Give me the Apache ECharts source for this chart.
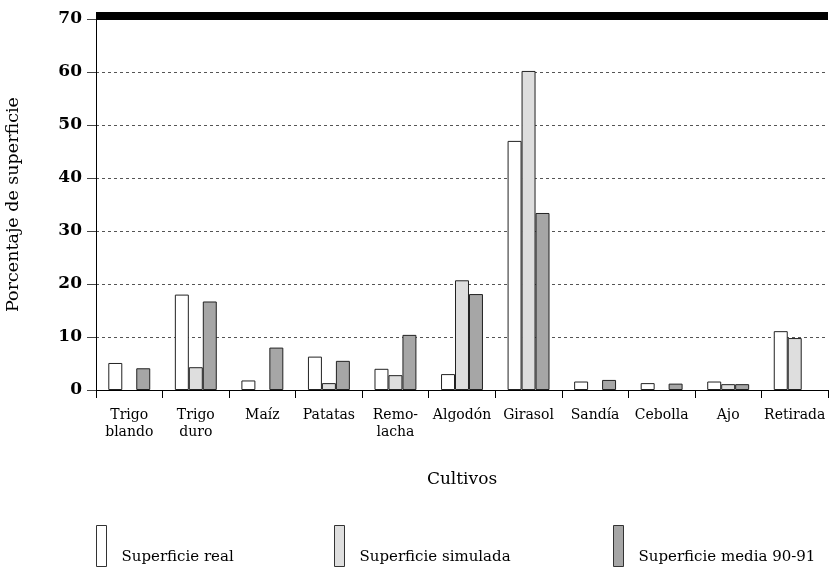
<!DOCTYPE html>
<html>
<head>
<meta charset="utf-8">
<script src="https://cdn.jsdelivr.net/npm/echarts@6/dist/echarts.min.js"></script>
<style>html,body{margin:0;padding:0;background:#fff}#c{width:829px;height:572px}</style>
</head>
<body>
<div id="c"></div>
<script>
const categories = ["Trigo\nblando","Trigo\nduro","Maíz","Patatas","Remo-\nlacha","Algodón","Girasol","Sandía","Cebolla","Ajo","Retirada"];
const seriesNames = ["Superficie real","Superficie simulada","Superficie media 90-91"];
const real = [5.1, 18.0, 1.8, 6.3, 4.0, 3.0, 47.0, 1.6, 1.3, 1.6, 11.1];
const simulada = [0, 4.3, 0, 1.3, 2.8, 20.7, 60.2, 0, 0, 1.1, 9.8];
const media = [4.1, 16.7, 8.0, 5.5, 10.4, 18.1, 33.4, 1.9, 1.2, 1.1, 0];
const yTicks = [0, 10, 20, 30, 40, 50, 60, 70];

const FONT = "DejaVu Serif";
const colors = ["#ffffff", "#dedede", "#a6a6a6"];
const chart = echarts.init(document.getElementById('c'), null, {renderer: 'canvas'});

function mkSeries(name, data, color) {
  return {
    name: name, type: 'bar', data: data.map(v => v === 0 ? null : v),
    barGap: '0%', barCategoryGap: '37%',
    itemStyle: {color: color, borderColor: '#222', borderWidth: 1},
    emphasis: {disabled: true}
  };
}
function mkLegend(name, left) {
  return {
    data: [name], left: left, top: 525, padding: 0, orient: 'horizontal',
    icon: 'rect', itemWidth: 10, itemHeight: 41, itemGap: 0,
    itemStyle: {borderColor: '#333', borderWidth: 1},
    formatter: '{a|{name}}',
    textStyle: {rich: {a: {fontFamily: FONT, fontSize: 15, color: '#000', padding: [22, 0, 0, 10]}}},
    selectedMode: false
  };
}

chart.setOption({
  animation: false,
  backgroundColor: '#fff',
  grid: {left: 96, right: 1, top: 19, bottom: 182, containLabel: false, outerBoundsMode: 'none'},
  legend: [
    mkLegend(seriesNames[0], 96),
    mkLegend(seriesNames[1], 334),
    mkLegend(seriesNames[2], 613)
  ],
  xAxis: [{
    type: 'category', data: categories,
    name: 'Cultivos', nameLocation: 'middle', nameGap: 81,
    nameTextStyle: {fontFamily: FONT, fontSize: 17, color: '#000'},
    axisLine: {lineStyle: {color: '#000', width: 1}},
    axisTick: {show: true, length: 8, lineStyle: {color: '#000'}},
    axisLabel: {fontFamily: FONT, fontSize: 14, color: '#000', margin: 17, interval: 0, lineHeight: 17}
  }, {
    type: 'category', data: categories, position: 'top', offset: 3,
    axisLine: {show: true, lineStyle: {color: '#000', width: 8, cap: 'butt'}},
    axisTick: {show: false}, axisLabel: {show: false}
  }],
  yAxis: {
    type: 'value', min: yTicks[0], max: yTicks[yTicks.length - 1], interval: 10,
    name: 'Porcentaje de superficie', nameLocation: 'middle', nameGap: 74,
    nameTextStyle: {fontFamily: FONT, fontSize: 17.5, color: '#000'},
    axisLine: {show: true, lineStyle: {color: '#000', width: 1}},
    axisTick: {show: true, length: 9, lineStyle: {color: '#444'}},
    axisLabel: {fontFamily: FONT, fontSize: 17, fontWeight: 'bold', color: '#000', margin: 14},
    splitLine: {show: true, lineStyle: {color: '#555', type: [3, 3], width: 1}}
  },
  series: [
    mkSeries(seriesNames[0], real, colors[0]),
    mkSeries(seriesNames[1], simulada, colors[1]),
    mkSeries(seriesNames[2], media, colors[2])
  ]
});
</script>
</body>
</html>
